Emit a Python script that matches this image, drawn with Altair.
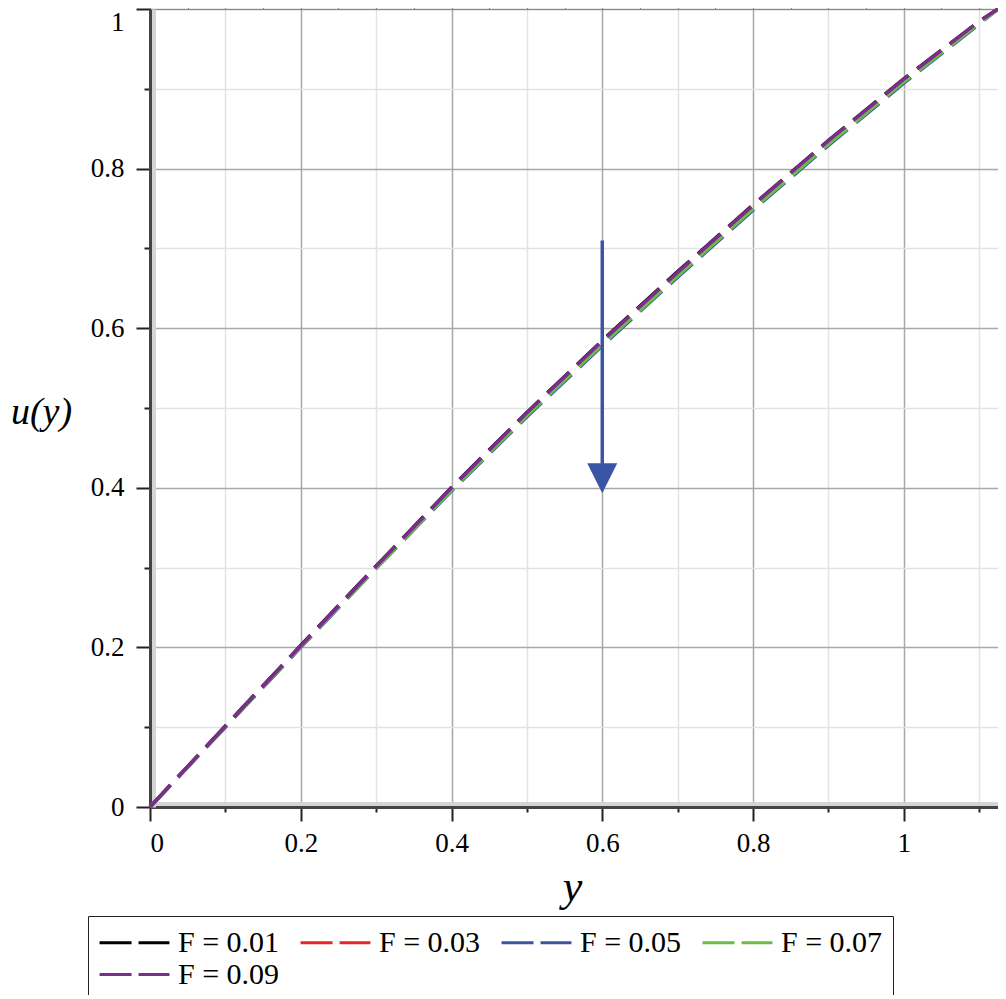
import altair as alt
import pandas as pd

# ---- data ----
y_pts = [0.0, 0.1, 0.2, 0.3, 0.4, 0.5, 0.6, 0.7, 0.8, 0.9, 1.0, 1.1, 1.125]
labels = ["F = 0.01", "F = 0.03", "F = 0.05", "F = 0.07", "F = 0.09"]
colors = ["#000000", "#e8262a", "#3a55a4", "#6cbd45", "#7b2d8e"]
u_f001 = [0.0, 0.1015, 0.2025, 0.3020, 0.4005, 0.4945, 0.5845, 0.6710, 0.7545, 0.8350, 0.9125, 0.9845, 1.0]
u_f003 = [0.0, 0.1010, 0.2015, 0.3010, 0.3990, 0.4930, 0.5830, 0.6690, 0.7530, 0.8340, 0.9115, 0.9840, 1.0]
u_f005 = [0.0, 0.1000, 0.2000, 0.2990, 0.3960, 0.4890, 0.5780, 0.6640, 0.7480, 0.8290, 0.9070, 0.9810, 1.0]
u_f007 = [0.0, 0.1005, 0.2005, 0.2995, 0.3970, 0.4905, 0.5795, 0.6655, 0.7495, 0.8305, 0.9085, 0.9820, 1.0]
u_f009 = [0.0, 0.1012, 0.2020, 0.3015, 0.4000, 0.4940, 0.5840, 0.6700, 0.7540, 0.8350, 0.9120, 0.9845, 1.0]
series = [u_f001, u_f003, u_f005, u_f007, u_f009]

major_x = [0, 0.2, 0.4, 0.6, 0.8, 1.0]
minor_x = [0.1, 0.3, 0.5, 0.7, 0.9, 1.1]
major_y = [0, 0.2, 0.4, 0.6, 0.8, 1.0]
minor_y = [0.1, 0.3, 0.5, 0.7, 0.9]

arrow_x = [0.6]
arrow_top = [0.71]
arrow_bottom = [0.43]
arrow_head = [0.412]

rows = []
for lab, vals in zip(labels, series):
    for xv, uv in zip(y_pts, vals):
        rows.append({"y": xv, "u": uv, "F": lab})
df = pd.DataFrame(rows)
arrow_df = pd.DataFrame({"x": arrow_x, "top": arrow_top, "bottom": arrow_bottom, "head": arrow_head})

FONT = "Times New Roman, Liberation Serif, serif"
xs = alt.Scale(domain=[0, 1.125], nice=False, zero=False)
ys = alt.Scale(domain=[0, 1], nice=False, zero=False)
LBL = "datum.value == 0 ? '0' : datum.value == 1 ? '1' : format(datum.value, '.1f')"

# minor grid / ticks layer (also draws the light inner shadow strip)
minor = alt.Chart(df).mark_line(opacity=0).encode(
    x=alt.X("y:Q", scale=xs, axis=alt.Axis(
        orient="bottom", values=minor_x, labels=False, title=None, grid=True,
        gridColor="#e2e2e2", gridWidth=1.5, tickSize=8, tickColor="#222", tickWidth=2,
        domain=True, domainColor="#d4d4d4", domainWidth=5, offset=-3)),
    y=alt.Y("u:Q", scale=ys, axis=alt.Axis(
        orient="left", values=minor_y, labels=False, title=None, grid=True,
        gridColor="#e2e2e2", gridWidth=1.5, tickSize=9, tickColor="#222", tickWidth=2,
        domain=True, domainColor="#d4d4d4", domainWidth=5, offset=-3)),
)

lines = alt.Chart(df).mark_line(strokeDash=[30, 11], strokeWidth=3.5).encode(
    x=alt.X("y:Q", scale=xs, axis=alt.Axis(
        orient="bottom", values=major_x, grid=True, gridColor="#a8a8a8", gridWidth=1.5,
        tickSize=14, tickColor="#222", tickWidth=2, domainColor="#444", domainWidth=3,
        labelFont=FONT, labelFontSize=27, labelColor="black", labelPadding=9,
        labelExpr=LBL,
        title="y", titleFont=FONT, titleFontStyle="italic", titleFontWeight="normal",
        titleFontSize=44, titleColor="black", titleX=422, titleY=80,
        titleAlign="center", titleBaseline="middle")),
    y=alt.Y("u:Q", scale=ys, axis=alt.Axis(
        orient="left", values=major_y, grid=True, gridColor="#a8a8a8", gridWidth=1.5,
        tickSize=14, tickColor="#222", tickWidth=2, domainColor="#444", domainWidth=3,
        labelFont=FONT, labelFontSize=27, labelColor="black", labelPadding=12,
        labelExpr=LBL,
        labelBaseline={"condition": {"test": "datum.value == 1", "value": "top"}, "value": "middle"},
        title="u(y)", titleFont=FONT, titleFontStyle="italic", titleFontWeight="normal",
        titleFontSize=38, titleColor="black", titleAngle=0, titleX=-109, titleY=403,
        titleAlign="center", titleBaseline="middle")),
    color=alt.Color("F:N", scale=alt.Scale(domain=labels, range=colors),
                    sort=labels,
                    legend=alt.Legend(
                        orient="none", legendX=-62, legendY=907, direction="horizontal",
                        columns=4, title=None, symbolType="M-2.33,0L2.33,0", symbolSize=900,
                        symbolOffset=20, symbolStrokeWidth=3, symbolDash=[32, 7],
                        labelFont=FONT, labelFontSize=30, labelColor="black",
                        labelOffset=27, columnPadding=14, rowPadding=0, padding=10,
                        strokeColor="#222", labelLimit=300)),
    order=alt.Order("F:N"),
)

arrow_line = alt.Chart(arrow_df).mark_rule(color="#3a55a4", strokeWidth=3.5).encode(
    x=alt.X("x:Q", scale=xs),
    y=alt.Y("top:Q", scale=ys),
    y2="bottom:Q",
)
arrow_tip = alt.Chart(arrow_df).mark_point(
    shape="M-1,-1L1,-1L0,1Z", size=900, filled=True, color="#3a55a4", opacity=1
).encode(
    x=alt.X("x:Q", scale=xs),
    y=alt.Y("head:Q", scale=ys),
)

chart = alt.layer(minor, lines, arrow_line, arrow_tip).resolve_axis(
    x="independent", y="independent"
).properties(
    width=848, height=798,
    autosize=alt.AutoSizeParams(type="none"),
    padding={"left": 142, "top": 1, "right": 0, "bottom": 188},
).configure_view(
    stroke="#333", strokeWidth=2
).configure(background="white")

chart.save("out.html", embed_options={"renderer": "svg", "actions": False})
